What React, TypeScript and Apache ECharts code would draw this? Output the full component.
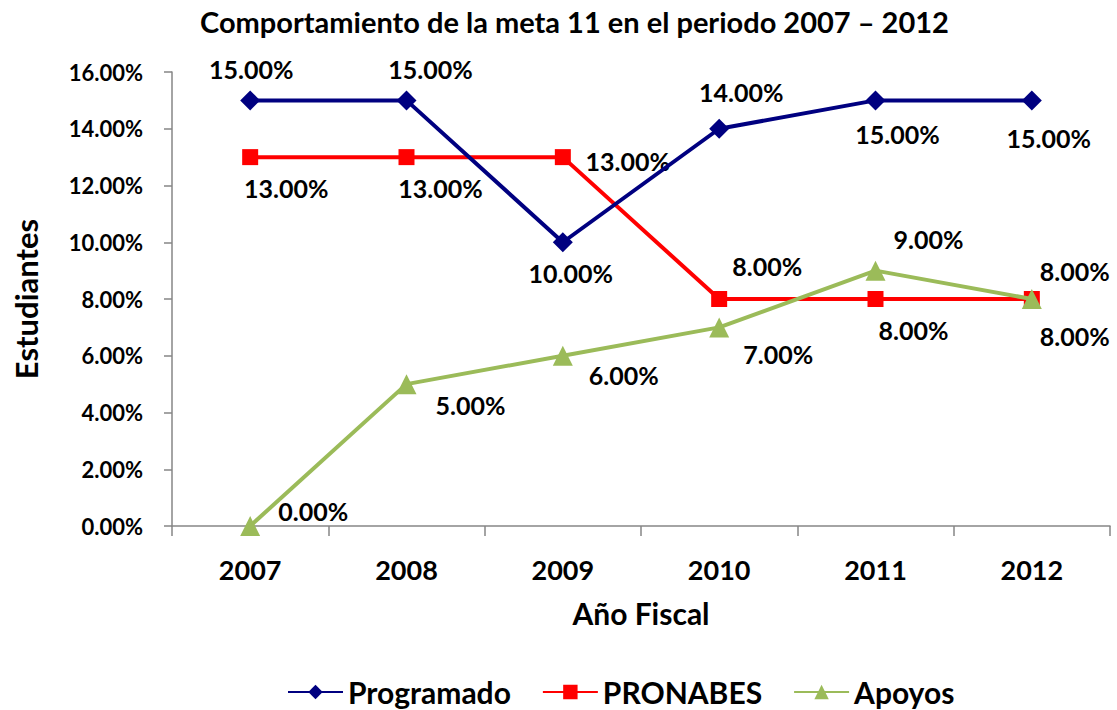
import React, { useEffect, useRef } from "react";
import * as echarts from "echarts";

const categories = ["2007", "2008", "2009", "2010", "2011", "2012"];
const programado = [15, 15, 10, 14, 15, 15];
const pronabes = [13, 13, 13, 8, 8, 8];
const apoyos = [0, 5, 6, 7, 9, 8];

// label offsets (pixels) relative to each point
const progOffsets = [[1, -31], [24, -31], [8, 31], [22, -37], [22, 34], [17, 38]];
const pronOffsets = [[36, 31], [34, 31], [65, 4], [48, -33], [38, 31], [43, -28]];
const apoyOffsets = [[63, -15], [64, 21], [61, 19], [59, 27], [53, -32], [43, 37]];

const FONT = "Lato";

function build(values: number[], offsets: number[][]) {
  return values.map((v, i) => ({
    value: v,
    label: { offset: offsets[i] },
  }));
}

const labelBase = {
  show: true,
  position: "inside" as const,
  align: "center",
  verticalAlign: "middle",
  fontFamily: FONT,
  fontWeight: "bold" as const,
  fontSize: 25,
  color: "#000",
  formatter: (p: any) => Number(p.value).toFixed(2) + "%",
};

export default function App() {
  const ref = useRef<HTMLDivElement>(null);
  useEffect(() => {
    if (!ref.current) return;
    const chart = echarts.init(ref.current, undefined, { renderer: "svg" });
    chart.setOption({
      animation: false,
      backgroundColor: "#fff",
      title: {
        text: "Comportamiento de la meta 11 en el periodo 2007 – 2012",
        left: 195,
        top: 2,
        textStyle: { fontFamily: FONT, fontWeight: "bold", fontSize: 29, color: "#000" },
      },
      legend: {
        top: 672,
        left: 282,
        itemWidth: 55,
        itemHeight: 18,
        itemGap: 31,
        textStyle: { fontFamily: FONT, fontWeight: "bold", fontSize: 30, color: "#000", lineHeight: 30 },
        data: ["Programado", "PRONABES", "Apoyos"],
      },
      grid: { left: 172, right: 7, top: 72, bottom: 184 },
      xAxis: {
        type: "category",
        data: categories,
        name: "Año Fiscal",
        nameLocation: "middle",
        nameGap: 72,
        nameTextStyle: { fontFamily: FONT, fontWeight: "bold", fontSize: 30, color: "#000" },
        axisLine: { lineStyle: { color: "#868686", width: 1.5 } },
        axisTick: { show: true, length: 10, lineStyle: { color: "#868686", width: 1.5 } },
        axisLabel: { fontFamily: FONT, fontWeight: "bold", fontSize: 27, color: "#000", margin: 30 },
        splitLine: { show: false },
      },
      yAxis: {
        type: "value",
        min: 0,
        max: 16,
        interval: 2,
        name: "Estudiantes",
        nameLocation: "middle",
        nameGap: 131,
        nameTextStyle: { fontFamily: FONT, fontWeight: "bold", fontSize: 31, color: "#000" },
        axisLine: { show: true, lineStyle: { color: "#868686", width: 1.5 } },
        axisTick: { show: true, length: 8, lineStyle: { color: "#868686", width: 1.5 } },
        axisLabel: {
          fontFamily: FONT,
          fontWeight: "bold",
          fontSize: 22,
          color: "#000",
          margin: 29,
          formatter: (v: number) => v.toFixed(2) + "%",
        },
        splitLine: { show: false },
      },
      series: [
        {
          name: "Programado",
          type: "line",
          data: build(programado, progOffsets),
          symbol: "diamond",
          symbolSize: 20,
          itemStyle: { color: "#000080" },
          lineStyle: { color: "#000080", width: 4 },
          label: labelBase,
          z: 3,
        },
        {
          name: "PRONABES",
          type: "line",
          data: build(pronabes, pronOffsets),
          symbol: "rect",
          symbolSize: 16,
          itemStyle: { color: "#FF0000" },
          lineStyle: { color: "#FF0000", width: 4 },
          label: labelBase,
          z: 2,
        },
        {
          name: "Apoyos",
          type: "line",
          data: build(apoyos, apoyOffsets),
          symbol: "triangle",
          symbolSize: 20,
          itemStyle: { color: "#9BBB59" },
          lineStyle: { color: "#9BBB59", width: 4 },
          label: labelBase,
          z: 4,
        },
      ],
    });
    return () => chart.dispose();
  }, []);
  return (
    <div
      ref={ref}
      style={{ position: "absolute", left: 0, top: 0, width: 1117, height: 710 }}
    />
  );
}
